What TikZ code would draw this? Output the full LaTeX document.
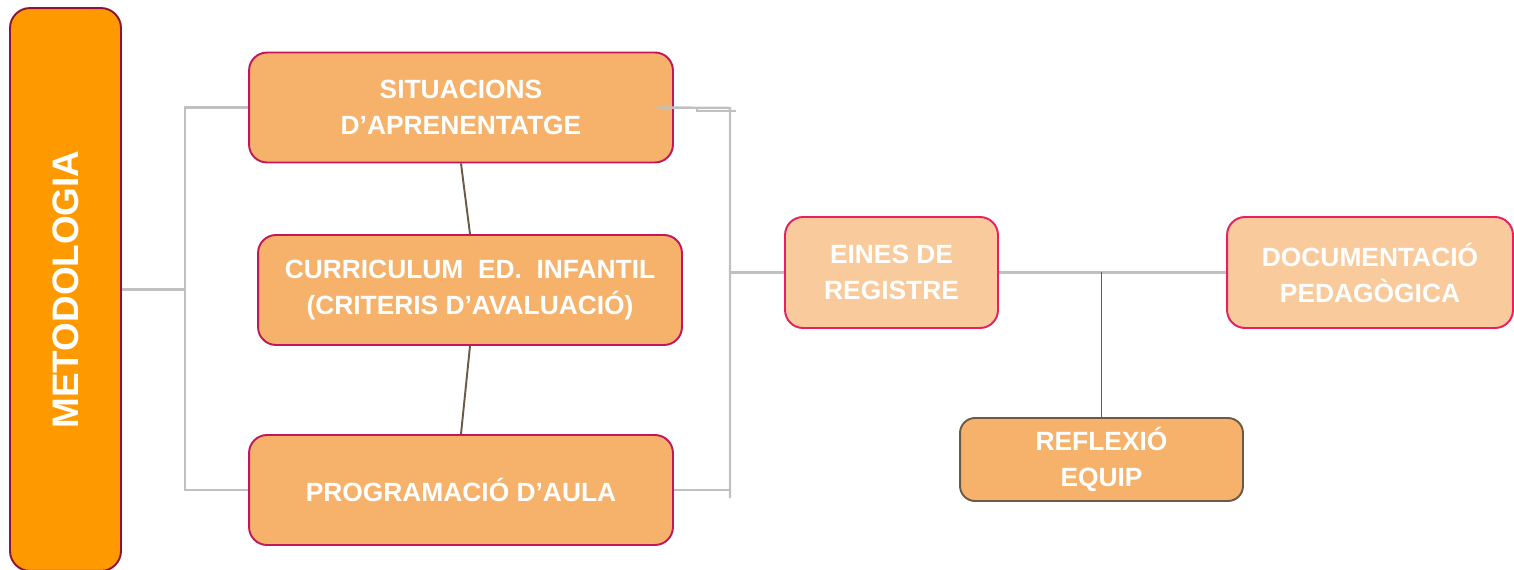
\documentclass[tikz,border=0pt]{standalone}
\usepackage{fontspec}
\setmainfont{Liberation Sans}
\definecolor{metfill}{HTML}{FF9900}
\definecolor{metline}{HTML}{8B1538}
\definecolor{boxfill}{HTML}{F6B26B}
\definecolor{boxline}{HTML}{C2185B}
\definecolor{softfill}{HTML}{F9CB9C}
\definecolor{softline}{HTML}{E91E63}
\definecolor{refline}{HTML}{6B5A45}
\definecolor{greyline}{HTML}{C0C0C0}
\tikzset{
  box/.style={draw=boxline,fill=boxfill,line width=1.1pt,rounded corners=0.36cm,
    text=white,font=\fontsize{15}{20.5}\selectfont\bfseries,align=center,
    minimum width=8.48cm,minimum height=2.2cm},
  softbox/.style={box,draw=softline,fill=softfill,minimum width=4.26cm,minimum height=2.22cm},
  reflbox/.style={box,draw=refline,rounded corners=0.3cm,minimum width=5.66cm,minimum height=1.66cm},
  grey/.style={draw=greyline,line width=1.4pt},
  brown/.style={draw=refline,line width=1.1pt}
}
\begin{document}
\begin{tikzpicture}[x=0.02cm,y=-0.02cm]
  \useasboundingbox (0,0) rectangle (1514,570);
  \node[draw=metline,fill=metfill,line width=1.1pt,rounded corners=0.4cm,rotate=90,
        minimum width=11.26cm,minimum height=2.22cm,text=white,
        font=\fontsize{21}{24}\selectfont\bfseries] (met) at (65.5,289.5) {METODOLOGIA};
  \node[box] (sit)  at (461,107.5) {SITUACIONS\\D’APRENENTATGE};
  \node[box] (cur)  at (470,290)   {CURRICULUM\ \ ED.\ \ INFANTIL\\(CRITERIS D’AVALUACIÓ)};
  \node[box] (prog) at (461,490)   {PROGRAMACIÓ D’AULA};
  \node[softbox] (eines) at (891.5,272.5) {EINES DE\\REGISTRE};
  \node[softbox,minimum width=5.72cm] (doc) at (1370,272.5) {DOCUMENTACIÓ\\PEDAGÒGICA};
  \node[reflbox] (refl) at (1101.5,459.5) {REFLEXIÓ\\EQUIP};
  % left bracket
  \coordinate (lj) at (185,289.5);
  \draw[grey] (met.south) -- (lj);
  \draw[grey] (sit.west) -| (lj) |- (prog.west);
  % right bracket
  \coordinate (rt) at (730,108);
  \coordinate (rj) at (730,272.5);
  \coordinate (rb) at (730,498);
  \draw[grey] ([xshift=-0.32cm]sit.east) -- (rt) -- (rb);
  \draw[grey] (697,108) -- (697,111) -- (736,111);
  \draw[grey] (prog.east) -- (prog.east -| rj);
  \draw[grey] (rj) -- (eines.west);
  \draw[grey] (eines.east) -- (doc.west);
  % links
  \draw[brown] (sit.south) -- (cur.north);
  \draw[brown] (cur.south) -- (prog.north);
  \draw[brown] (refl.north) -- (refl.north |- doc.west);
\end{tikzpicture}
\end{document}
